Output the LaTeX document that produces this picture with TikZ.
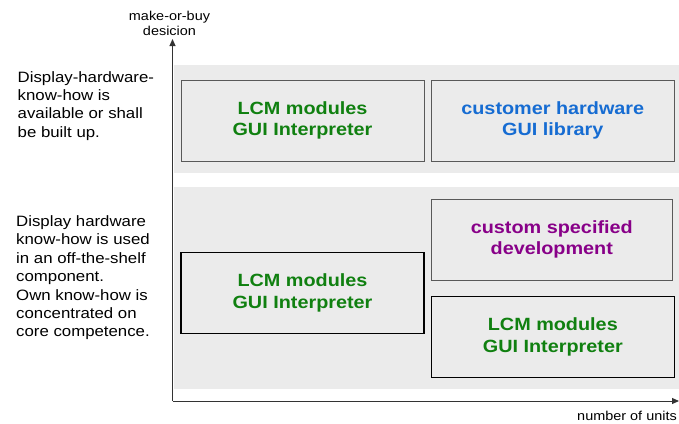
\documentclass[tikz,border=0pt]{standalone}
\usepackage{fontspec}
\setmainfont{Liberation Sans}[FakeStretch=1.12]
\usetikzlibrary{arrows.meta}
\definecolor{bandgray}{HTML}{EBEBEB}
\definecolor{lcmgreen}{RGB}{16,128,16}
\definecolor{hwblue}{RGB}{22,108,210}
\definecolor{devpurple}{RGB}{136,0,136}
\definecolor{axisgray}{HTML}{333333}
\begin{document}
\begin{tikzpicture}[x=1pt,y=-1pt,
  boxstyle/.style={draw, fill=bandgray, minimum width=243pt, minimum height=81pt, inner sep=0pt,
    align=center, font=\fontsize{17.7}{21.3}\selectfont\bfseries},
  softbox/.style={boxstyle, draw=black!65, line width=0.9pt},
  hardbox/.style={boxstyle, draw=black, line width=1.2pt},
  sidetext/.style={anchor=north west, align=left, inner sep=0pt, font=\fontsize{15}{18.4}\selectfont},
  axislabel/.style={inner sep=0pt, align=center, font=\fontsize{12.9}{15}\selectfont},
  axisline/.style={draw=axisgray, line width=1pt, -{Triangle[length=7pt,width=6pt]}}]
\useasboundingbox (0,0) rectangle (679,423);
% bands
\fill[bandgray] (173.5,65) rectangle (679,173);
\fill[bandgray] (173.5,187) rectangle (679,389);
% axes
\coordinate (origin) at (172.5,401);
\coordinate (ytip) at (172.5,39);
\coordinate (xtip) at (679,401);
\draw[axisline] (origin) -- (ytip);
\draw[axisline] (origin) -- (xtip);
\node[axislabel, anchor=south] (ylab) at (169.5,36) {make-or-buy\\desicion};
\node[axislabel, anchor=east] (xlab) at (677,416) {number of units};
% side texts
\node[sidetext] (txtA) at (17.5,71) {Display-hardware-\\know-how is\\available or shall\\be built up.};
\node[sidetext] (txtB) at (16,215.5) {Display hardware\\know-how is used\\in an off-the-shelf\\component.\\Own know-how is\\concentrated on\\core competence.};
% boxes
\node[softbox, text=lcmgreen] (b1) at (302.5,120.5) {LCM modules\\GUI Interpreter};
\node[softbox, text=hwblue] (b2) at (552.8,120.5) {customer hardware\\GUI library};
\node[hardbox, text=lcmgreen] (b3) at (302.5,293) {LCM modules\\GUI Interpreter};
\node[softbox, text=devpurple, minimum width=241pt] (b4) at (551.8,239.7) {custom specified\\development};
\node[hardbox, text=lcmgreen] (b5) at (552.8,337) {LCM modules\\GUI Interpreter};
\end{tikzpicture}
\end{document}
